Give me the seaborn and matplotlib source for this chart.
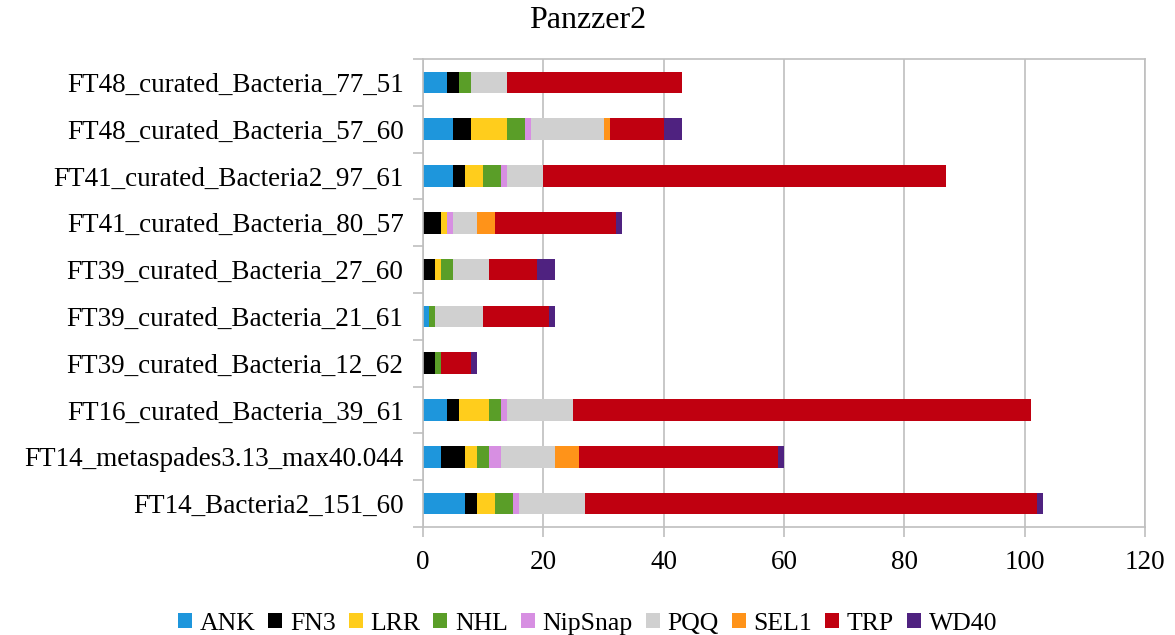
import pandas as pd
import matplotlib.pyplot as plt
import seaborn as sns
from matplotlib.patches import Patch
from matplotlib.ticker import FixedLocator

# Dữ liệu
samples = [
    'FT48_curated_Bacteria_77_51', 'FT48_curated_Bacteria_57_60',
    'FT41_curated_Bacteria2_97_61', 'FT41_curated_Bacteria_80_57',
    'FT39_curated_Bacteria_27_60', 'FT39_curated_Bacteria_21_61',
    'FT39_curated_Bacteria_12_62', 'FT16_curated_Bacteria_39_61',
    'FT14_metaspades3.13_max40.044', 'FT14_Bacteria2_151_60',
]
domains = ['ANK', 'FN3', 'LRR', 'NHL', 'NipSnap', 'PQQ', 'SEL1', 'TRP', 'WD40']

ank     = [4, 5, 5, 0, 0, 1, 0, 4, 3, 7]
fn3     = [2, 3, 2, 3, 2, 0, 2, 2, 4, 2]
lrr     = [0, 6, 3, 1, 1, 0, 0, 5, 2, 3]
nhl     = [2, 3, 3, 0, 2, 1, 1, 2, 2, 3]
nipsnap = [0, 1, 1, 1, 0, 0, 0, 1, 2, 1]
pqq     = [6, 12, 6, 4, 6, 8, 0, 11, 9, 11]
sel1    = [0, 1, 0, 3, 0, 0, 0, 0, 4, 0]
trp     = [29, 9, 67, 20, 8, 11, 5, 76, 33, 75]
wd40    = [0, 3, 0, 1, 3, 1, 1, 0, 1, 1]

colors = ['#1E96DC', '#000000', '#FFCD1C', '#5A9E28', '#D78FE2',
          '#D0D0D0', '#FF9319', '#C00010', '#4F2280']

df = pd.DataFrame(dict(zip(domains, [ank, fn3, lrr, nhl, nipsnap, pqq, sel1, trp, wd40])),
                  index=samples)
cum = df.cumsum(axis=1)

plt.rcParams['font.family'] = ['Liberation Serif', 'DejaVu Serif']

fig = plt.figure(figsize=(11.75, 6.35), dpi=100)
ax = fig.add_axes([0.36, 0.17, 0.6145, 0.737])

# Vẽ chồng: tổng tích lũy từ lớn đến nhỏ
for dom, col in zip(domains[::-1], colors[::-1]):
    sns.barplot(x=cum[dom].values, y=samples, color=col, orient='h',
                width=0.46, ax=ax, saturation=1, linewidth=0)

grid_c = '#BFBFBF'
ax.set_xlim(0, 120)
ax.set_ylim(9.5, -0.5)
ax.set_xticks(range(0, 121, 20))
ax.xaxis.grid(True, color=grid_c, linewidth=1.2)
ax.set_axisbelow(True)
for s in ax.spines.values():
    s.set_color(grid_c)
    s.set_linewidth(1.2)

ax.yaxis.set_minor_locator(FixedLocator([i - 0.5 for i in range(11)]))
ax.tick_params(axis='y', which='major', length=0, pad=14, labelsize=19.5)
ax.tick_params(axis='y', which='minor', length=7.5, color=grid_c, width=1.2)
ax.tick_params(axis='x', length=7.5, color=grid_c, width=1.2, pad=9, labelsize=19.5)
ax.set_xlabel('')
ax.set_ylabel('')

fig.text(0.5, 1 - 21 / 635, 'Panzzer2', ha='center', va='center', fontsize=23)

handles = [Patch(facecolor=c, edgecolor='none', label=d) for d, c in zip(domains, colors)]
fig.legend(handles=handles, loc='center', bbox_to_anchor=(0.5, 0.018), ncol=9,
           frameon=False, fontsize=18.5, handlelength=0.55, handleheight=0.55,
           handletextpad=0.3, columnspacing=0.5)

plt.savefig('out.png', dpi=100)
